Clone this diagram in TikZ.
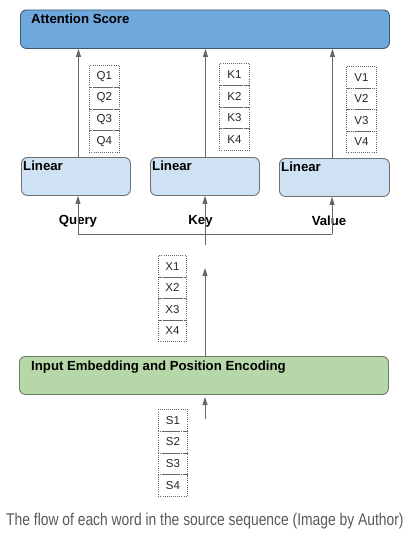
\documentclass[tikz,border=0pt]{standalone}
\usepackage{fontspec}
\setmainfont{Liberation Sans}
\usetikzlibrary{arrows.meta}
\definecolor{attfill}{HTML}{6FA8DC}
\definecolor{attline}{HTML}{3E5A78}
\definecolor{linfill}{HTML}{CFE2F3}
\definecolor{linline}{HTML}{707070}
\definecolor{embfill}{HTML}{B6D7A8}
\definecolor{embline}{HTML}{6B7D63}
\definecolor{wire}{HTML}{666666}
\definecolor{captxt}{HTML}{5A5A5A}
\tikzset{
  block/.style={draw, rounded corners=6pt, line width=0.9pt, anchor=north west, inner sep=0pt},
  title/.style={font=\fontsize{13.2}{15}\selectfont\bfseries, inner sep=0pt, anchor=north west},
  cell/.style={draw=wire, dash pattern=on 0.9pt off 1.2pt, line width=0.75pt, anchor=north west,
    inner sep=0pt, font=\fontsize{11.5}{13}\selectfont, text=black!85},
  wireline/.style={draw=wire, line width=0.9pt},
  arr/.style={wireline, -{Triangle[length=8pt,width=5pt]}},
  tag/.style={font=\fontsize{13.2}{15}\selectfont\bfseries, inner sep=0pt},
}
\begin{document}
\begin{tikzpicture}[x=1pt,y=-1pt]
\useasboundingbox (0,0) rectangle (408,536);
\fill[white] (0,0) rectangle (408,536);

% attention score block
\node[block, fill=attfill, draw=attline, minimum width=369pt, minimum height=38.5pt] (att) at (20,9.5) {};
\node[title] (attt) at (31,14) {Attention Score};

% linear projections
\node[block, fill=linfill, draw=linline, minimum width=109pt, minimum height=38pt] (lq) at (21,157) {};
\node[block, fill=linfill, draw=linline, minimum width=109pt, minimum height=38pt] (lk) at (150,157) {};
\node[block, fill=linfill, draw=linline, minimum width=110pt, minimum height=38pt] (lv) at (279,158) {};
\node[title] (lqt) at (23,160.5) {Linear};
\node[title] (lkt) at (152,160.5) {Linear};
\node[title] (lvt) at (281,161.5) {Linear};

% embedding block
\node[block, fill=embfill, draw=embline, minimum width=369pt, minimum height=38pt] (emb) at (19,356) {};
\node[title] (embt) at (31,360.5) {Input Embedding and Position Encoding};

% token columns
\foreach \n [count=\i] in {Q1,Q2,Q3,Q4}
  \node[cell, minimum width=30pt, minimum height=21.75pt] (q\i) at (89,{65+21.75*(\i-1)}) {\n};
\foreach \n [count=\i] in {K1,K2,K3,K4}
  \node[cell, minimum width=30pt, minimum height=21.75pt] (k\i) at (219,{63+21.75*(\i-1)}) {\n};
\foreach \n [count=\i] in {V1,V2,V3,V4}
  \node[cell, minimum width=30pt, minimum height=21.5pt] (v\i) at (346,{66+21.5*(\i-1)}) {\n};
\foreach \n [count=\i] in {X1,X2,X3,X4}
  \node[cell, minimum width=28pt, minimum height=21.5pt] (x\i) at (158,{255+21.5*(\i-1)}) {\n};
\foreach \n [count=\i] in {S1,S2,S3,S4}
  \node[cell, minimum width=29pt, minimum height=21.75pt] (s\i) at (158,{409+21.75*(\i-1)}) {\n};

% branch labels
\node[tag] (query) at (78,221) {Query};
\node[tag] (key) at (200.5,221) {Key};
\node[tag] (value) at (329,221) {Value};

% connectors
\coordinate (jq) at (78,234);
\coordinate (jv) at (332,234);
\coordinate (tail) at (205,245);
\coordinate (xtip) at (205,268);
\coordinate (sfoot) at (205,419);
\coordinate (stip) at (205,397);

\draw[arr] ([xshift=2.5pt]lq.north) -- ([xshift=2.5pt]lq.north |- att.south);
\draw[arr] ([xshift=0.5pt]lk.north) -- ([xshift=0.5pt]lk.north |- att.south);
\draw[arr] ([xshift=-2pt]lv.north) -- ([xshift=-2pt]lv.north |- att.south);

\draw[wireline] (jq) -- (jv);
\draw[arr] (jq) -- (jq |- lq.south);
\draw[arr] (jv) -- (jv |- lv.south);
\draw[arr] (tail) -- (tail |- lk.south);

\draw[arr] (emb.north -| xtip) -- (xtip);
\draw[arr] (sfoot) -- (stip);

% caption
\node[anchor=base west, inner sep=0pt, text=captxt] (cap) at (6,525.5)
  {\scalebox{0.815}[1]{\fontsize{17}{19}\selectfont The flow of each word in the source sequence (Image by Author)}};
\end{tikzpicture}
\end{document}
